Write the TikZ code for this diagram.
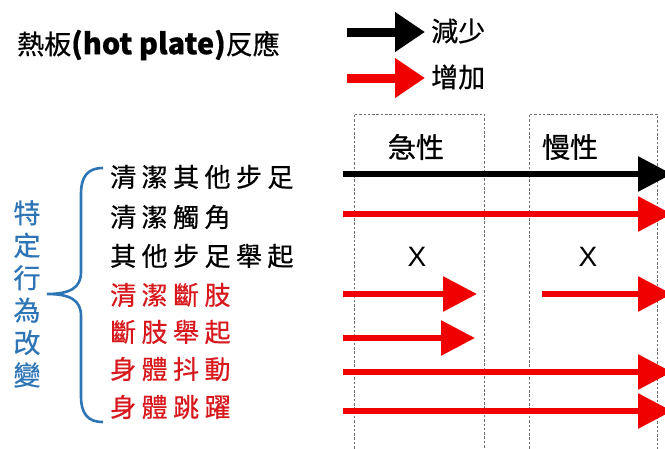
\documentclass[tikz,border=0pt]{standalone}
\usepackage{fontspec}
\setmainfont{Liberation Sans}
\setsansfont{Liberation Sans}
\newfontfamily\cjk[FakeBold=0.6]{Noto Sans CJK TC}
\newfontfamily\cjksp[LetterSpace=21,FakeBold=0.6]{Noto Sans CJK TC}
\usetikzlibrary{arrows.meta}
\definecolor{arrred}{RGB}{240,0,0}
\definecolor{txtred}{RGB}{215,25,30}
\definecolor{braceblue}{RGB}{46,117,182}
\definecolor{dashgrey}{RGB}{110,110,110}
\begin{document}
\begin{tikzpicture}[x=1pt,y=-1pt,
  bigarrow/.style={line width=6pt,-{Triangle[length=34pt,width=34pt]}},
  legarrow/.style={line width=9pt,-{Triangle[length=30pt,width=38pt]}},
  item/.style={anchor=west,inner sep=0pt,font=\fontsize{26}{30}\selectfont\cjksp},
  redtext/.style={text=txtred},
  colhead/.style={inner sep=0pt,font=\fontsize{28}{30}\selectfont\cjk},
  legtext/.style={anchor=west,inner sep=0pt,font=\fontsize{27}{30}\selectfont\cjk},
  xmark/.style={inner sep=0pt,font=\fontsize{28}{30}\selectfont},
  dashbox/.style={draw=dashgrey,line width=0.9pt,dash pattern=on 2.5pt off 1.8pt},
]
\clip (0,0) rectangle (665,448);
\fill[white] (0,0) rectangle (665,448);

% title
\node[anchor=west,inner sep=0pt] (title) at (17,45)
  {\fontsize{27}{30}\selectfont\cjk 熱板{\fontsize{29}{30}\selectfont\bfseries (hot plate)}反應};

% legend
\coordinate (l1s) at (347,32);  \coordinate (l1e) at (425,32);
\coordinate (l2s) at (347,78);  \coordinate (l2e) at (425,78);
\draw[legarrow,black] (l1s) -- (l1e);
\draw[legarrow,arrred] (l2s) -- (l2e);
\node[legtext] (dec) at (431,31) {減少};
\node[legtext] (inc) at (431,77) {增加};

% dashed columns
\draw[dashbox] (354,470) -- (354,114) -- (484,114) -- (484,470);
\draw[dashbox] (529,470) -- (529,114) -- (657,114) -- (657,470);
\node[colhead] (acute) at (416,147) {急性};
\node[colhead] (chronic) at (570,147) {慢性};

% items
\node[item] (i1) at (110,177) {清潔其他步足};
\node[item] (i2) at (110,217) {清潔觸角};
\node[item] (i3) at (110,256) {其他步足舉起};
\node[item,redtext] (i4) at (110,295) {清潔斷肢};
\node[item,redtext] (i5) at (110,332) {斷肢舉起};
\node[item,redtext] (i6) at (110,369) {身體抖動};
\node[item,redtext] (i7) at (110,407) {身體跳躍};

% vertical label
\node[inner sep=0pt,align=center,text=braceblue,
  font=\fontsize{27}{32.4}\selectfont\cjk] (vlab) at (27,294)
  {特\\定\\行\\為\\改\\變};

% brace
\coordinate (btop) at (103,168);
\coordinate (btip) at (47,294);
\coordinate (bbot) at (103,422);
\draw[braceblue,line width=2.6pt]
  (btop) .. controls (88,168) and (81,176) .. (81,194) -- (81,272)
  .. controls (81,288) and (70,294) .. (btip)
  .. controls (70,294) and (81,300) .. (81,316) -- (81,396)
  .. controls (81,414) and (88,422) .. (bbot);

% arrows
\coordinate (a1s) at (343,174); \coordinate (a1e) at (672,174);
\coordinate (a2s) at (343,214); \coordinate (a2e) at (672,214);
\coordinate (a4s) at (343,294); \coordinate (a4e) at (477,294);
\coordinate (a4bs) at (542,294); \coordinate (a4be) at (672,294);
\coordinate (a5s) at (343,338); \coordinate (a5e) at (475,338);
\coordinate (a6s) at (343,372); \coordinate (a6e) at (672,372);
\coordinate (a7s) at (343,411); \coordinate (a7e) at (672,411);
\draw[bigarrow,black] (a1s) -- (a1e);
\draw[bigarrow,arrred] (a2s) -- (a2e);
\draw[bigarrow,arrred] (a4s) -- (a4e);
\draw[bigarrow,arrred] (a4bs) -- (a4be);
\draw[bigarrow,arrred] (a5s) -- (a5e);
\draw[bigarrow,arrred] (a6s) -- (a6e);
\draw[bigarrow,arrred] (a7s) -- (a7e);

% X marks
\node[xmark] (x1) at (417,257) {X};
\node[xmark] (x2) at (588,257) {X};
\end{tikzpicture}
\end{document}
